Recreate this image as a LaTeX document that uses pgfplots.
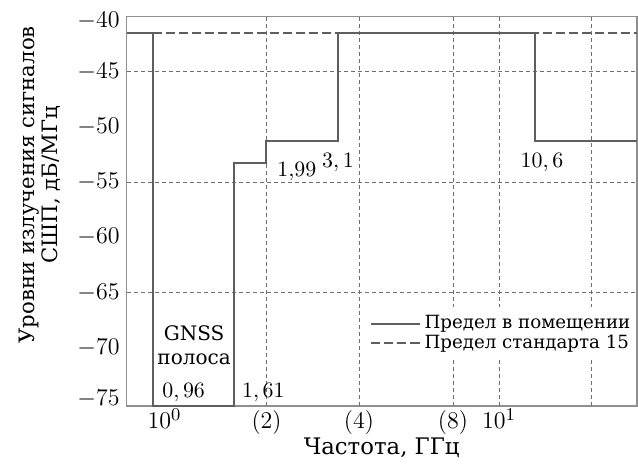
\documentclass[border=0pt]{standalone}
\usepackage{fontspec}
\setmainfont{DejaVu Serif}
\usepackage{pgfplots}
\pgfplotsset{compat=1.18}

\definecolor{limitgray}{HTML}{5E5E5E}
\definecolor{gridgray}{HTML}{6E6E6E}
\definecolor{framegray}{HTML}{8F8F8F}

% Frequency scale (GHz): piecewise-linear map between the band edges
\pgfplotsset{
  freq scale/.style={
    x coord trafo/.code={%
      \pgfmathparse{(##1<0.96) ? (126.7+(##1-0.8)*166.25) :
        ((##1<1) ? (153.3+(##1-0.96)*280) :
        ((##1<1.61) ? (164.5+(##1-1)*113.93) :
        ((##1<1.99) ? (234+(##1-1.61)*85) :
        ((##1<2) ? (266.3+(##1-1.99)*30) :
        ((##1<3.1) ? (266.6+(##1-2)*64.91) :
        ((##1<4) ? (338+(##1-3.1)*23.33) :
        ((##1<8) ? (359+(##1-4)*23.5) :
        ((##1<10) ? (453+(##1-8)*23) :
        ((##1<10.6) ? (499+(##1-10)*60) :
        ((##1<20) ? (535+(##1-10.6)*6.032) :
        (591.7+(##1-20)*4.5)))))))))))}%
    },
  },
}

\begin{document}
\begin{tikzpicture}
\begin{axis}[
  name=ax,
  freq scale,
  scale only axis,
  width=255pt, height=194.65pt,
  xmin=0.8, xmax=30, ymin=-75.3, ymax=-40,
  clip=false,
  axis line style={framegray, line width=0.8pt},
  major tick length=0pt,
  xtick={1,2,4,8,10},
  xticklabels={$10^0$,$(2)$,$(4)$,$(8)$,$10^1$},
  extra x ticks={2,4,8,10,20},
  extra x tick labels={},
  extra x tick style={grid=major},
  ytick={-75,-70,...,-40},
  % end labels sit slightly inside the frame
  yticklabels={\raisebox{1.75pt}[\height][\depth]{$-75$},$-70$,$-65$,$-60$,
    $-55$,$-50$,$-45$,\raisebox{-2pt}[\height][\depth]{$-40$}},
  extra y ticks={-65,-55,-45},
  extra y tick labels={},
  extra y tick style={grid=major},
  major grid style={gridgray, line width=0.45pt, dash pattern=on 2pt off 1.5pt},
  yticklabel style={font=\fontsize{12.2}{14}\selectfont},
  xticklabel style={font=\fontsize{12.2}{14}\selectfont, anchor=base, yshift=-11.5pt},
  xlabel={Частота, ГГц},
  xlabel style={at={(rel axis cs:0.5,0)}, anchor=base, yshift=-24.5pt,
    font=\fontsize{11.4}{13}\selectfont},
  ylabel={Уровни излучения сигналов\\СШП, дБ/МГц},
  ylabel style={at={(rel axis cs:0,0.568)}, anchor=center,
    yshift=43.35pt, align=center, font=\fontsize{10.6}{11.6}\selectfont},
  legend style={at={(rel axis cs:1,0.2542)}, anchor=north east,
    draw=none, fill=white, inner xsep=1pt, inner ysep=2pt,
    row sep=-2.5pt, font=\fontsize{9.1}{10}\selectfont},
  legend cell align=left,
  legend image code/.code={\draw[#1] (0pt,0pt) -- (21.5pt,0pt);
    \path (21.5pt,0pt) -- (24.5pt,0pt);},
]
% indoor emission mask
\addplot[limitgray, line width=1pt, line join=miter] coordinates {
  (0.8,-41.5) (0.96,-41.5) (0.96,-75.3) (1.61,-75.3) (1.61,-53.3)
  (1.99,-53.3) (1.99,-51.3) (3.1,-51.3) (3.1,-41.5) (10.6,-41.5)
  (10.6,-51.3) (30,-51.3)};
\addlegendentry{Предел в помещении}
% Part 15 general limit
\addplot[limitgray, line width=1pt, dash pattern=on 4.5pt off 2pt] coordinates {
  (0.8,-41.5) (30,-41.5)};
\addlegendentry{Предел стандарта 15}

% band edge annotations
\node[anchor=base west, xshift=1pt, yshift=4pt, font=\fontsize{10.5}{12}\selectfont]
  at (axis cs:0.96,-75.3) {$0,96$};
\node[anchor=base west, xshift=0.5pt, yshift=4pt, font=\fontsize{10.5}{12}\selectfont]
  at (axis cs:1.61,-75.3) {$1,61$};
\node[anchor=base west, xshift=2pt, yshift=-6.5pt, font=\fontsize{10.5}{12}\selectfont]
  at (axis cs:1.99,-53.3) {$1{,}99$};
\node[anchor=base, yshift=-13pt, font=\fontsize{10.5}{12}\selectfont]
  at (axis cs:3.1,-51.3) {$3,1$};
\node[anchor=base, xshift=3.5pt, yshift=-13pt, font=\fontsize{10.5}{12}\selectfont]
  at (axis cs:10.6,-51.3) {$10,6$};
\node[align=center, font=\fontsize{10}{12}\selectfont]
  at (axis cs:1.26,-69.8) {GNSS\\полоса};
\end{axis}
\pgfresetboundingbox
\path[use as bounding box]
  ([xshift=-63.35pt, yshift=-29.5pt]ax.south west)
  rectangle ([xshift=0.65pt, yshift=8.35pt]ax.north east);
\end{tikzpicture}
\end{document}
